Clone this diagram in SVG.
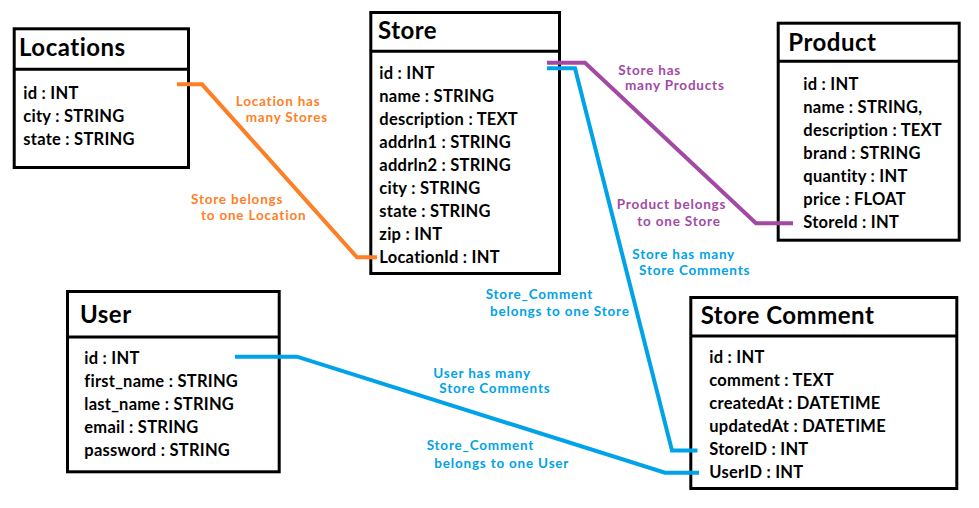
<svg xmlns="http://www.w3.org/2000/svg" width="979" height="508" viewBox="0 0 979 508">
<style>
  .box { fill: #fff; stroke: #000; stroke-width: 3; }
  .div { stroke: #000; stroke-width: 3; }
  .title { font-family: Lato, "Open Sans", sans-serif; font-weight: bold; font-size: 24px; letter-spacing: 0.5px; fill: #000; }
  .attr { font-family: Lato, "Open Sans", sans-serif; font-weight: bold; font-size: 16.5px; letter-spacing: 0.25px; fill: #000; }
  .lbl { font-family: Lato, "Open Sans", sans-serif; font-weight: bold; font-size: 13.5px; letter-spacing: 0.8px; }
  .conn { fill: none; stroke-width: 4; stroke-linejoin: miter; }
  .orange { stroke: #FF7F27; }
  .purple { stroke: #A349A4; }
  .blue { stroke: #00A2E8; }
  .t-orange { fill: #FF7F27; }
  .t-purple { fill: #A349A4; }
  .t-blue { fill: #00A2E8; }
</style>
<rect width="979" height="508" fill="#fff"/>

<g id="locations">
  <rect class="box" x="14.2" y="28.8" width="174.3" height="138.7"/>
  <line class="div" x1="14.2" y1="69.3" x2="188.5" y2="69.3"/>
  <text class="title" x="19" y="56">Locations</text>
  <text class="attr" x="23.3" y="98.7">id : INT</text>
  <text class="attr" x="23.3" y="121.7">city : STRING</text>
  <text class="attr" x="23.3" y="144.7">state : STRING</text>
</g>

<g id="store">
  <rect class="box" x="370.8" y="12.5" width="188.7" height="261"/>
  <line class="div" x1="370.8" y1="51.2" x2="559.5" y2="51.2"/>
  <text class="title" x="378" y="39.3">Store</text>
  <text class="attr" x="379.3" y="79">id : INT</text>
  <text class="attr" x="379.3" y="102">name : STRING</text>
  <text class="attr" x="379.3" y="125">description : TEXT</text>
  <text class="attr" x="379.3" y="148">addrln1 : STRING</text>
  <text class="attr" x="379.3" y="171">addrln2 : STRING</text>
  <text class="attr" x="379.3" y="194">city : STRING</text>
  <text class="attr" x="379.3" y="217">state : STRING</text>
  <text class="attr" x="379.3" y="240">zip : INT</text>
  <text class="attr" x="379.3" y="263">LocationId : INT</text>
</g>

<g id="product">
  <rect class="box" x="778.2" y="23.2" width="181" height="217"/>
  <line class="div" x1="778.2" y1="61.2" x2="959.2" y2="61.2"/>
  <text class="title" x="788.3" y="51">Product</text>
  <text class="attr" x="803.3" y="90.3">id : INT</text>
  <text class="attr" x="803.3" y="113.3">name : STRING,</text>
  <text class="attr" x="803.3" y="136.3">description : TEXT</text>
  <text class="attr" x="803.3" y="159.3">brand : STRING</text>
  <text class="attr" x="803.3" y="182.3">quantity : INT</text>
  <text class="attr" x="803.3" y="205.3">price : FLOAT</text>
  <text class="attr" x="803.3" y="228.3">StoreId : INT</text>
</g>

<g id="user">
  <rect class="box" x="67.5" y="291.5" width="211.7" height="180.3"/>
  <line class="div" x1="67.5" y1="337" x2="279.2" y2="337"/>
  <text class="title" x="80" y="322.7">User</text>
  <text class="attr" x="84.3" y="364">id : INT</text>
  <text class="attr" x="84.3" y="387">first_name : STRING</text>
  <text class="attr" x="84.3" y="410">last_name : STRING</text>
  <text class="attr" x="84.3" y="433">email : STRING</text>
  <text class="attr" x="84.3" y="456">password : STRING</text>
</g>

<g id="store-comment">
  <rect class="box" x="690.8" y="297.5" width="266" height="191"/>
  <line class="div" x1="690.8" y1="336" x2="956.8" y2="336"/>
  <text class="title" x="700.7" y="324.3">Store Comment</text>
  <text class="attr" x="709.3" y="363.3">id : INT</text>
  <text class="attr" x="709.3" y="386.3">comment : TEXT</text>
  <text class="attr" x="709.3" y="409.3">createdAt : DATETIME</text>
  <text class="attr" x="709.3" y="432.3">updatedAt : DATETIME</text>
  <text class="attr" x="709.3" y="455.3">StoreID : INT</text>
  <text class="attr" x="709.3" y="478.3">UserID : INT</text>
</g>

<g id="connectors">
  <path class="conn orange" d="M177,84.3 H202 L357,257.3 H377"/>
  <path class="conn purple" d="M547,62.7 H585 L756,223.3 H793"/>
  <path class="conn blue" d="M547,68.3 H575 L672,450.5 H697.5"/>
  <path class="conn blue" d="M235,356.7 H297 L665,472.7 H699"/>
</g>

<g id="labels">
  <text class="lbl t-orange" x="235.7" y="105.7">Location has</text>
  <text class="lbl t-orange" x="245.7" y="121.7">many Stores</text>
  <text class="lbl t-orange" x="191" y="204.3">Store belongs</text>
  <text class="lbl t-orange" x="201" y="220">to one Location</text>
  <text class="lbl t-purple" x="618.3" y="74.5">Store has</text>
  <text class="lbl t-purple" x="625" y="89.5">many Products</text>
  <text class="lbl t-purple" x="616.7" y="209.3">Product belongs</text>
  <text class="lbl t-purple" x="637.3" y="225.7">to one Store</text>
  <text class="lbl t-blue" x="632.3" y="259">Store has many</text>
  <text class="lbl t-blue" x="639" y="275">Store Comments</text>
  <text class="lbl t-blue" x="485.7" y="299.3">Store_Comment</text>
  <text class="lbl t-blue" x="490" y="316">belongs to one Store</text>
  <text class="lbl t-blue" x="433.3" y="377.7">User has many</text>
  <text class="lbl t-blue" x="439.3" y="392.7">Store Comments</text>
  <text class="lbl t-blue" x="426.7" y="450">Store_Comment</text>
  <text class="lbl t-blue" x="434.3" y="468.3">belongs to one User</text>
</g>
</svg>
